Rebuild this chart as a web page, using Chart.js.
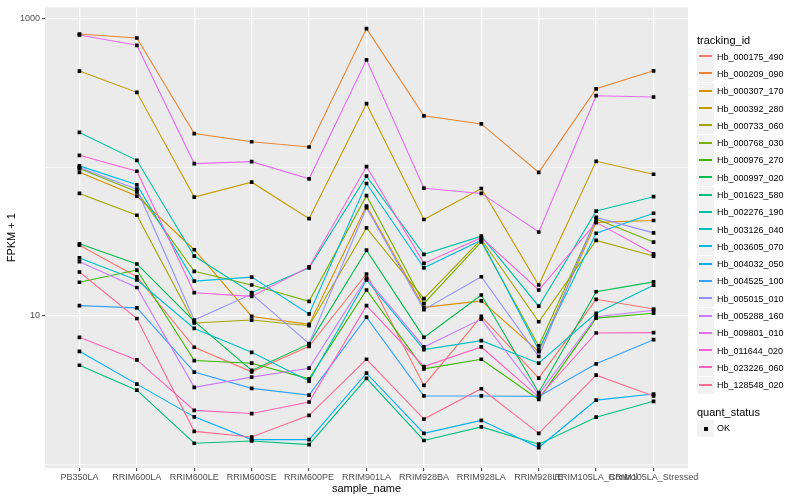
<!DOCTYPE html>
<html><head><meta charset="utf-8">
<script src="https://cdn.jsdelivr.net/npm/chart.js@4.4.0/dist/chart.umd.min.js"></script>
<style>
html,body{margin:0;padding:0;background:#fff;}
#wrap{position:relative;width:800px;height:500px;font-family:"Liberation Sans",Arial,Helvetica,sans-serif;overflow:hidden;}
canvas{position:absolute;left:0;top:0;}
.lg{position:absolute;white-space:nowrap;color:#000;}
</style></head><body>
<div id="wrap"><canvas id="c" width="800" height="500"></canvas><div id="legend"></div></div>
<script>
const categories = ["PB350LA","RRIM600LA","RRIM600LE","RRIM600SE","RRIM600PE","RRIM901LA","RRIM928BA","RRIM928LA","RRIM928LE","RRIM105LA_Control","RRIM105LA_Stressed"];

const Hb_000175_490 = [29.8, 18.3, 6.14, 4.20, 6.23, 19.1, 3.40, 9.9, 3.81, 12.9, 11.1];
const Hb_000209_090 = [785, 738, 168, 148, 136.5, 853, 221, 195, 92.2, 336, 444];
const Hb_000307_170 = [92.2, 63.8, 27.8, 9.9, 8.75, 54.7, 11.4, 12.6, 5.74, 42.5, 43.7];
const Hb_000392_280 = [442, 318, 62.8, 79.1, 45.0, 267, 44.4, 71.8, 16.1, 109.3, 89.5];
const Hb_000733_060 = [66.5, 47.4, 8.94, 9.36, 8.57, 39.0, 13.05, 32.7, 9.12, 32.1, 25.2];
const Hb_000768_030 = [97.7, 68.2, 19.9, 16.1, 12.5, 64.2, 12.1, 31.4, 6.27, 44.8, 31.3];
const Hb_000976_270 = [16.8, 20.3, 5.0, 4.80, 3.77, 14.9, 4.40, 5.10, 2.74, 9.65, 10.4];
const Hb_000997_020 = [30.5, 22.3, 9.16, 4.29, 6.47, 27.6, 7.16, 13.8, 3.05, 14.5, 16.9];
const Hb_001623_580 = [4.65, 3.16, 1.39, 1.44, 1.36, 3.79, 1.45, 1.79, 1.37, 2.08, 2.66];
const Hb_002276_190 = [171, 111, 25.2, 14.3, 21.0, 86.8, 25.9, 34.3, 11.6, 50.6, 63.2];
const Hb_003126_040 = [24.5, 17.4, 8.22, 5.68, 3.64, 17.4, 5.92, 6.80, 4.80, 10.4, 16.05];
const Hb_003605_070 = [101.9, 76.0, 17.1, 18.2, 10.3, 77.5, 21.0, 32.2, 5.90, 35.9, 48.9];
const Hb_004032_050 = [5.77, 3.47, 2.09, 1.47, 1.47, 4.11, 1.62, 1.98, 1.30, 2.71, 2.98];
const Hb_004525_100 = [11.7, 11.3, 4.18, 3.25, 2.93, 9.80, 2.89, 2.89, 2.87, 4.75, 6.91];
const Hb_005015_010 = [99.2, 71.0, 9.36, 14.0, 6.50, 53.3, 11.0, 18.3, 5.32, 45.9, 36.1];
const Hb_005288_160 = [23.1, 15.5, 3.30, 3.87, 4.44, 17.9, 6.17, 9.50, 2.96, 9.85, 10.9];
const Hb_009801_010 = [773, 659, 105.5, 108.8, 83.4, 526, 72.1, 66.5, 36.6, 302, 296];
const Hb_011644_020 = [120, 93.7, 14.3, 13.5, 21.3, 100.8, 22.5, 33.5, 14.9, 42.5, 26.1];
const Hb_023226_060 = [7.16, 5.05, 2.31, 2.20, 2.63, 11.7, 4.56, 6.17, 2.84, 7.66, 7.70];
const Hb_128548_020 = [19.7, 9.59, 1.67, 1.53, 2.14, 5.10, 2.02, 3.23, 1.62, 3.99, 2.89];

const seriesIds = ["Hb_000175_490","Hb_000209_090","Hb_000307_170","Hb_000392_280","Hb_000733_060","Hb_000768_030","Hb_000976_270","Hb_000997_020","Hb_001623_580","Hb_002276_190","Hb_003126_040","Hb_003605_070","Hb_004032_050","Hb_004525_100","Hb_005015_010","Hb_005288_160","Hb_009801_010","Hb_011644_020","Hb_023226_060","Hb_128548_020"];
const seriesValues = [Hb_000175_490,Hb_000209_090,Hb_000307_170,Hb_000392_280,Hb_000733_060,Hb_000768_030,Hb_000976_270,Hb_000997_020,Hb_001623_580,Hb_002276_190,Hb_003126_040,Hb_003605_070,Hb_004032_050,Hb_004525_100,Hb_005015_010,Hb_005288_160,Hb_009801_010,Hb_011644_020,Hb_023226_060,Hb_128548_020];
const seriesColors = ["#F8766D","#EA8331","#D89000","#C09B00","#A3A500","#7CAE00","#39B600","#00BB4E","#00BF7D","#00C1A3","#00BFC4","#00BAE0","#00B0F6","#35A2FF","#9590FF","#C77CFF","#E76BF3","#FA62DB","#FF62BC","#FF6C91"];

const yGridValues = [1, 10, 100, 1000];
const yTickLabels = ["", "10", "", "1000"];
const yMajor = [10, 1000];

const FONT = '"Liberation Sans", Arial, Helvetica, sans-serif';

const bgPlugin = {
  id: 'bg',
  beforeDraw(chart) {
    const { ctx, chartArea: a } = chart;
    ctx.save();
    ctx.fillStyle = '#ffffff';
    ctx.fillRect(0, 0, chart.width, chart.height);
    ctx.fillStyle = '#EBEBEB';
    ctx.fillRect(a.left, a.top, a.right - a.left, a.bottom - a.top);
    ctx.restore();
  }
};

const datasets = seriesValues.map((vals, i) => ({
  type: 'line',
  label: seriesIds[i],
  data: vals.map((v, j) => ({ x: j, y: v })),
  borderColor: seriesColors[i],
  backgroundColor: seriesColors[i],
  borderWidth: 1.1,
  pointRadius: 0,
  tension: 0,
  fill: false,
  order: -i
}));
datasets.push({
  type: 'scatter',
  label: 'OK',
  data: seriesValues.flatMap(vals => vals.map((v, j) => ({ x: j, y: v }))),
  pointStyle: 'rect',
  pointRadius: 2.6,
  backgroundColor: '#000',
  borderWidth: 0,
  showLine: false,
  order: -1000
});

new Chart(document.getElementById('c'), {
  data: { datasets },
  plugins: [bgPlugin],
  options: {
    responsive: false,
    animation: false,
    devicePixelRatio: 1,
    layout: { padding: { top: 5, right: 112, left: 0, bottom: 0 } },
    plugins: { legend: { display: false }, tooltip: { enabled: false } },
    scales: {
      x: {
        type: 'linear', min: -0.6, max: 10.6,
        afterBuildTicks: s => { s.ticks = categories.map((c, i) => ({ value: i })); },
        afterFit: s => { s.height = 32; },
        ticks: {
          callback: (v, i) => categories[i] ?? '',
          autoSkip: false, maxRotation: 0, minRotation: 0,
          color: '#4D4D4D', font: { size: 9, family: FONT }, padding: 1
        },
        grid: { color: '#ffffff', lineWidth: 1.3, tickLength: 3, tickColor: '#333333', tickWidth: 1 },
        border: { display: false },
        title: { display: true, text: 'sample_name', color: '#000', font: { size: 11, family: FONT }, padding: { top: 0, bottom: 4 } }
      },
      y: {
        type: 'logarithmic', min: 0.947, max: 1185,
        afterBuildTicks: s => { s.ticks = yGridValues.map(v => ({ value: v })); },
        afterFit: s => { s.width = 45; },
        ticks: {
          callback: (v, i) => yTickLabels[i] ?? '',
          autoSkip: false,
          color: '#4D4D4D', font: { size: 9, family: FONT }, padding: 2
        },
        grid: {
          color: '#ffffff',
          lineWidth: c => (c.tick && yMajor.includes(c.tick.value)) ? 1.3 : 0.6,
          tickLength: 3,
          tickColor: c => (c.tick && yMajor.includes(c.tick.value)) ? '#333333' : 'rgba(0,0,0,0)',
          tickWidth: 1
        },
        border: { display: false },
        title: { display: true, text: 'FPKM + 1', color: '#000', font: { size: 11, family: FONT }, padding: { top: 5, bottom: 0 } }
      }
    }
  }
});

// legend (ggplot style)
const lg = document.getElementById('legend');
function addText(text, left, cy, size) {
  const d = document.createElement('div');
  d.className = 'lg';
  d.textContent = text;
  const h = Math.round(size * 1.3);
  d.style.cssText = `left:${left}px;top:${Math.round(cy - h / 2)}px;height:${h}px;line-height:${h}px;font-size:${size}px;`;
  lg.appendChild(d);
}
function addKey(cy) {
  const k = document.createElement('div');
  k.className = 'lg';
  k.style.cssText = `left:697px;top:${Math.round(cy - 8.5)}px;width:17px;height:17px;background:#F2F2F2;`;
  lg.appendChild(k);
  return k;
}
addText('tracking_id', 697, 40, 11);
seriesIds.forEach((id, i) => {
  const cy = 56.7 + 17.29 * i;
  const k = addKey(cy);
  const ln = document.createElement('div');
  ln.style.cssText = `position:absolute;left:2px;top:7px;width:13px;height:2px;background:${seriesColors[i]};`;
  k.appendChild(ln);
  addText(id, 717, cy, 9);
});
addText('quant_status', 697, 412.3, 11);
const okKey = addKey(428.3);
const sq = document.createElement('div');
sq.style.cssText = 'position:absolute;left:7px;top:7px;width:4px;height:4px;background:#000;';
okKey.appendChild(sq);
addText('OK', 717, 428.3, 9);
</script>
</body></html>
